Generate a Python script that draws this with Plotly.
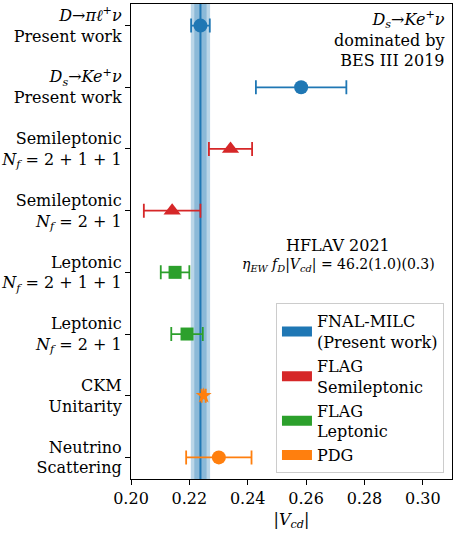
import plotly.graph_objects as go

# ---- data ----
row_labels = [
    "<i>D</i>→<i>πℓ</i><sup>+</sup><i>ν</i><br>Present work",
    "<i>D<sub>s</sub></i>→<i>Ke</i><sup>+</sup><i>ν</i><br>Present work",
    "Semileptonic<br><i>N<sub>f</sub></i> = 2 + 1 + 1",
    "Semileptonic<br><i>N<sub>f</sub></i> = 2 + 1",
    "Leptonic<br><i>N<sub>f</sub></i> = 2 + 1 + 1",
    "Leptonic<br><i>N<sub>f</sub></i> = 2 + 1",
    "CKM<br>Unitarity",
    "Neutrino<br>Scattering",
]
vcd_values = [0.2238, 0.2583, 0.2341, 0.2141, 0.2151, 0.2192, 0.2249, 0.2301]
vcd_errors = [0.0032, 0.0155, 0.0074, 0.0097, 0.0049, 0.0054, 0.0007, 0.0112]
row_group = ["FNAL", "FNAL", "SL", "SL", "LEP", "LEP", "PDG", "PDG"]
row_symbol = ["circle", "circle", "triangle-up", "triangle-up", "square", "square", "star", "circle"]

band_center = 0.2238
band_inner = 0.0021
band_outer = 0.0033

legend_names = {
    "FNAL": "FNAL-MILC<br>(Present work)",
    "SL": "FLAG<br>Semileptonic",
    "LEP": "FLAG<br>Leptonic",
    "PDG": "PDG",
}
x_ticks = [0.20, 0.22, 0.24, 0.26, 0.28, 0.30]

# ---- styles ----
colors = {"FNAL": "#1f77b4", "SL": "#d62728", "LEP": "#2ca02c", "PDG": "#ff7f0e"}
sizes = {"circle": 14, "triangle-up": 15, "square": 13, "star": 12}
FONT = "DejaVu Serif"

fig = go.Figure()

# bands
fig.add_vrect(x0=band_center - band_outer, x1=band_center + band_outer,
              fillcolor="rgba(31,119,180,0.3)", line_width=0, layer="below")
fig.add_vrect(x0=band_center - band_inner, x1=band_center + band_inner,
              fillcolor="rgba(31,119,180,0.3)", line_width=0, layer="below")
fig.add_vline(x=band_center, line=dict(color="#1f77b4", width=2), layer="below")

for i, (v, e, g, s) in enumerate(zip(vcd_values, vcd_errors, row_group, row_symbol)):
    c = colors[g]
    fig.add_trace(go.Scatter(
        x=[v], y=[i], mode="markers",
        marker=dict(symbol=s, size=sizes[s], color=c, line=dict(width=0)),
        error_x=dict(type="data", array=[e], color=c, thickness=1.8, width=7),
        showlegend=False, hoverinfo="skip",
    ))

# legend entries
for g in ["FNAL", "SL", "LEP", "PDG"]:
    fig.add_trace(go.Scatter(
        x=[None], y=[None], mode="lines", name=legend_names[g],
        line=dict(color=colors[g], width=11),
    ))

fig.add_annotation(
    text="<i>D<sub>s</sub></i>→<i>Ke</i><sup>+</sup><i>ν</i><br>dominated by<br>BES III 2019",
    xref="paper", yref="paper", x=0.985, y=0.995, xanchor="right", yanchor="top",
    align="right", showarrow=False, font=dict(family=FONT, size=16, color="black"),
)
fig.add_annotation(
    text="HFLAV 2021",
    xref="paper", yref="paper", x=0.645, y=0.492, xanchor="center", yanchor="middle",
    showarrow=False, font=dict(family=FONT, size=16, color="black"),
)
fig.add_annotation(
    text="<i>η<sub>EW</sub> f<sub>D</sub></i>|<i>V<sub>cd</sub></i>| = 46.2(1.0)(0.3)",
    xref="paper", yref="paper", x=0.645, y=0.45, xanchor="center", yanchor="middle",
    showarrow=False, font=dict(family=FONT, size=14, color="black"),
)

fig.update_layout(
    width=454, height=533,
    margin=dict(l=129, r=1, t=4, b=54),
    paper_bgcolor="white", plot_bgcolor="white",
    font=dict(family=FONT, size=16, color="black"),
    legend=dict(
        x=0.975, y=0.012, xanchor="right", yanchor="bottom",
        bgcolor="white", bordercolor="#cccccc", borderwidth=1,
        font=dict(family=FONT, size=16), tracegroupgap=2,
    ),
    xaxis=dict(
        range=[0.2, 0.31], tickvals=x_ticks, ticktext=[f"{t:.2f}" for t in x_ticks],
        showgrid=False, zeroline=False, ticks="outside", ticklen=5, tickwidth=1,
        tickcolor="black", showline=True, linecolor="black", linewidth=1.2, mirror=True,
        tickfont=dict(family=FONT, size=16),
        title=dict(text="|<i>V<sub>cd</sub></i>|", standoff=6, font=dict(family=FONT, size=16)),
    ),
    yaxis=dict(
        range=[7.35, -0.35], tickvals=list(range(len(row_labels))), ticktext=row_labels,
        showgrid=False, zeroline=False, ticks="outside", ticklen=5, tickwidth=1,
        tickcolor="black", showline=True, linecolor="black", linewidth=1.2, mirror=True,
        tickfont=dict(family=FONT, size=16),
    ),
)

fig.write_html(
    "out.html",
    config={"displayModeBar": False},
    post_script="document.body.style.margin='0';document.body.style.overflow='hidden';",
)
